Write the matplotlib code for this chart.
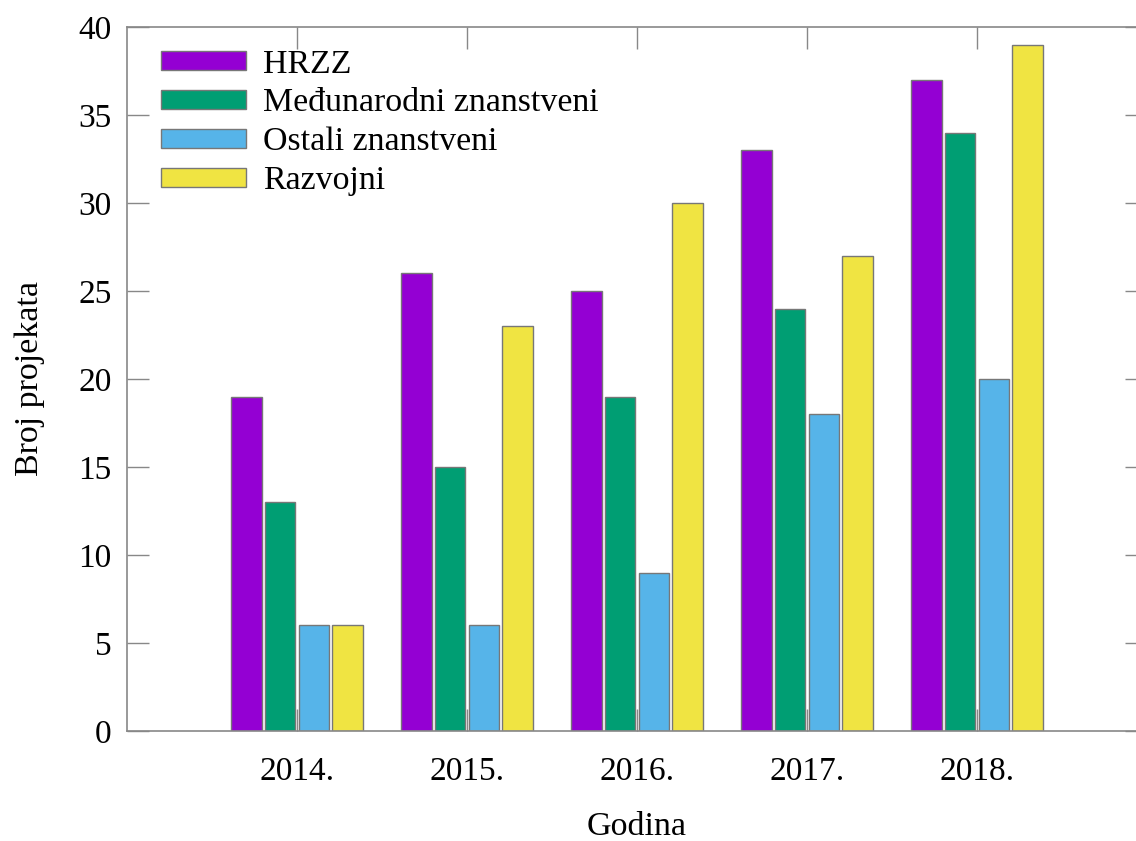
import numpy as np
import matplotlib.pyplot as plt

plt.rcParams['font.family'] = ['Liberation Serif', 'DejaVu Serif']

godine = ['2014.', '2015.', '2016.', '2017.', '2018.']
serije = ['HRZZ', 'Međunarodni znanstveni', 'Ostali znanstveni', 'Razvojni']
hrzz = [19, 26, 25, 33, 37]
medunarodni = [13, 15, 19, 24, 34]
ostali = [6, 6, 9, 18, 20]
razvojni = [6, 23, 30, 27, 39]
boje = ['#9400d3', '#009e73', '#56b4e9', '#f0e442']

fig = plt.figure(figsize=(11.36, 8.41), dpi=100)
ax = fig.add_axes([127/1136, 1-731/841, 1020/1136, 704/841])

x = np.arange(len(godine))
korak = 0.198
sirina = 0.18
for i, (vals, naziv) in enumerate(zip([hrzz, medunarodni, ostali, razvojni], serije)):
    ax.bar(x + (i - 1.5) * korak, vals, sirina, color=boje[i], edgecolor='#777777',
           linewidth=1, label=naziv, zorder=2)

ax.set_xlim(-1, 5)
ax.set_ylim(0, 40)
ax.set_xticks(x)
ax.set_xticklabels(godine)
ax.set_yticks(np.arange(0, 41, 5))
ax.tick_params(direction='in', length=16, width=1, color='#888888', labelsize=24,
               top=True, right=True, pad=18)
ax.tick_params(axis='y', pad=11)
for s in ax.spines.values():
    s.set_color('#888888')
    s.set_linewidth(1.2)

ax.set_xlabel('Godina', fontsize=24.5, labelpad=18)
ax.set_ylabel('Broj projekata', fontsize=24.5, labelpad=24)

ax.legend(loc='upper left', bbox_to_anchor=(0.02, 0.988), frameon=False, fontsize=24.4,
          handlelength=2.5, handleheight=0.5, labelspacing=0.25, handletextpad=0.5,
          borderaxespad=0)

plt.savefig('out.png')
